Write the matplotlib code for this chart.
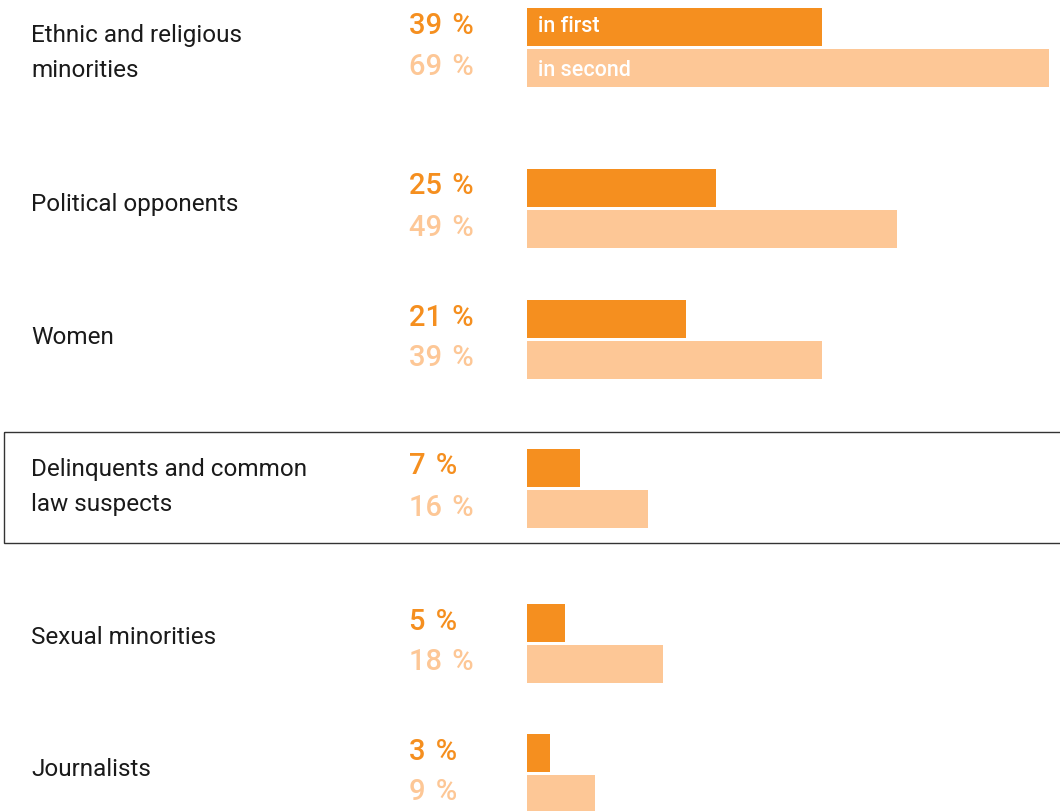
import matplotlib
matplotlib.use("Agg")
import matplotlib.pyplot as plt
from matplotlib.patches import Rectangle

# groups, top to bottom
groups = ["Ethnic and religious\nminorities", "Political opponents", "Women",
          "Delinquents and common\nlaw suspects", "Sexual minorities", "Journalists"]
first_pct = [39, 25, 21, 7, 5, 3]
second_pct = [69, 49, 39, 16, 18, 9]
series_names = ["in first", "in second"]

DARK = "#f58f1f"
LIGHT = "#fdc796"
TEXT = "#1a1a1a"

W, H = 1060, 811
# vertical layout in pixels: centre of each pair of bars, and of each group label
centres = [47.5, 208, 339, 488, 643, 773]
label_y = [53, 204, 337, 487, 637, 770]
bar_h = 38
gap = 3
bar_x0 = 527
px_per_pct = 7.56

plt.rcParams['font.family'] = ['Roboto', 'DejaVu Sans']

fig = plt.figure(figsize=(W / 100, H / 100), dpi=100)

# text layer in pixel coordinates
tax = fig.add_axes([0, 0, 1, 1])
tax.set_xlim(0, W)
tax.set_ylim(H, 0)
tax.axis("off")

# bar layer, x in percent
bax = fig.add_axes([bar_x0 / W, 0, (W - bar_x0) / W, 1])
bax.set_xlim(0, (W - bar_x0) / px_per_pct)
bax.set_ylim(H, 0)
bax.axis("off")

y_first = [c - (bar_h + gap) / 2 for c in centres]
y_second = [c + (bar_h + gap) / 2 for c in centres]

bax.barh(y_first, first_pct, height=bar_h, color=DARK, left=0)
bax.barh(y_second, second_pct, height=bar_h, color=LIGHT, left=0)

# series names inside the top pair
bax.text(1.45, y_first[0] + 5, series_names[0], color="white", fontsize=15.5,
         fontweight="medium", va="baseline", ha="left")
bax.text(1.45, y_second[0] + 7.5, series_names[1], color="white", fontsize=15.5,
         fontweight="medium", va="baseline", ha="left")

for i, name in enumerate(groups):
    tax.text(31, label_y[i], name, fontsize=17.5, color=TEXT, va="center",
             ha="left", linespacing=1.62)
    tax.text(409, y_first[i] + 7, f"{first_pct[i]}\u200a %", fontsize=21,
             fontweight="medium", color=DARK, va="baseline", ha="left")
    tax.text(409, y_second[i] + 7, f"{second_pct[i]}\u200a %", fontsize=21,
             fontweight="medium", color=LIGHT, va="baseline", ha="left")

# highlight frame around the delinquents row
tax.add_patch(Rectangle((4, 432), W, 111, fill=False, edgecolor="#333333",
                        linewidth=1.0))

fig.savefig("out.png", dpi=100)
